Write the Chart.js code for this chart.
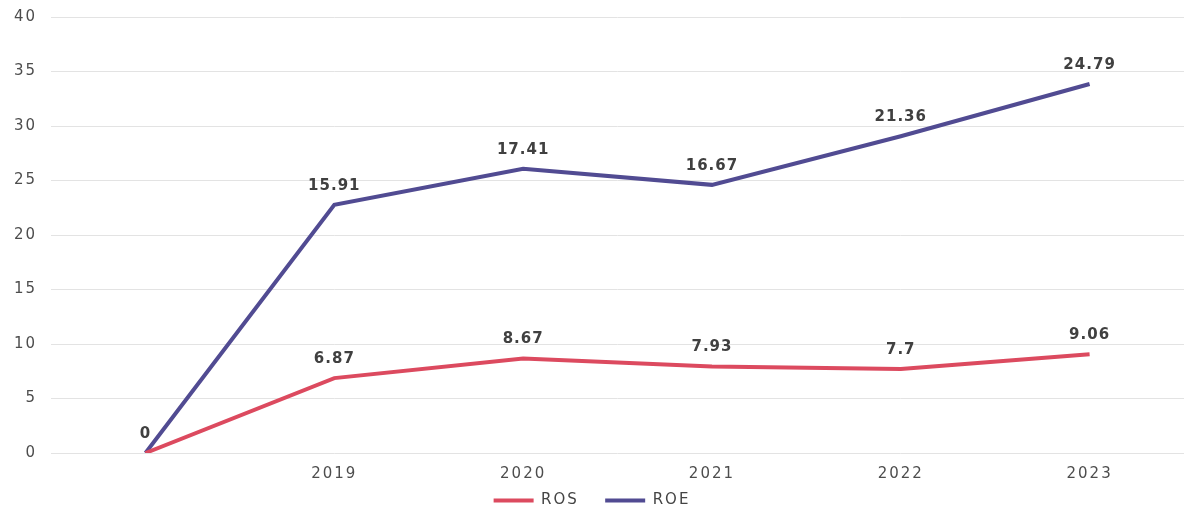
<!DOCTYPE html>
<html>
<head>
<meta charset="utf-8">
<script src="https://cdn.jsdelivr.net/npm/chart.js@4"></script>
<style>
html,body{margin:0;padding:0;background:#fff;}
#wrap{width:1184px;height:510px;}
</style>
</head>
<body>
<div id="wrap"><canvas id="c" width="1184" height="510"></canvas></div>
<script>
const categories = ["", "2019", "2020", "2021", "2022", "2023"];
const rosValues = [0, 6.87, 8.67, 7.93, 7.7, 9.06];
const roeValues = [0, 15.91, 17.41, 16.67, 21.36, 24.79];
const yTicks = [0, 5, 10, 15, 20, 25, 30, 35, 40];

const FONT = '"DejaVu Sans", "Liberation Sans", Arial, sans-serif';

const spacingPlugin = {
  id: 'spacing',
  beforeLayout(chart) { chart.ctx.letterSpacing = '2px'; },
  beforeDraw(chart) { chart.ctx.letterSpacing = '2px'; }
};

const labelPlugin = {
  id: 'valueLabels',
  afterDatasetsDraw(chart) {
    const ctx = chart.ctx;
    ctx.save();
    ctx.font = 'bold 15px ' + FONT;
    ctx.letterSpacing = '1px';
    ctx.fillStyle = '#404040';
    ctx.textAlign = 'center';
    ctx.textBaseline = 'middle';
    chart.data.datasets.forEach((ds, di) => {
      const meta = chart.getDatasetMeta(di);
      meta.data.forEach((pt, i) => {
        if (di === 1 && i === 0) return; // same "0" label as ROS
        ctx.fillText(String(ds.data[i]), pt.x, pt.y - 19);
      });
    });
    ctx.restore();
  }
};

new Chart(document.getElementById('c'), {
  type: 'line',
  data: {
    labels: categories,
    datasets: [
      { label: 'ROS', data: rosValues, borderColor: '#dc4a5f', backgroundColor: '#dc4a5f',
        borderWidth: 4, pointRadius: 0, tension: 0, fill: false },
      { label: 'ROE', data: roeValues, borderColor: '#514b92', backgroundColor: '#514b92',
        borderWidth: 4, pointRadius: 0, tension: 0, fill: false }
    ]
  },
  options: {
    responsive: false,
    animation: false,
    devicePixelRatio: 1,
    layout: { padding: { top: 0, right: 0, left: 0, bottom: -8 } },
    plugins: {
      legend: {
        position: 'bottom',
        labels: {
          usePointStyle: true, pointStyle: 'line', pointStyleWidth: 40,
          boxHeight: 4, padding: 6,
          color: '#444', font: { size: 15, family: FONT },
          generateLabels(chart) {
            const items = Chart.defaults.plugins.legend.labels.generateLabels(chart);
            items.forEach((it, i) => { if (i < items.length - 1) it.text = it.text + '   '; });
            return items;
          }
        }
      },
      tooltip: { enabled: false }
    },
    scales: {
      x: {
        offset: true,
        grid: { display: false },
        border: { display: false },
        ticks: { color: '#4d4d4d', font: { size: 15, family: FONT }, padding: 4 }
      },
      y: {
        stacked: true,
        min: 0, max: 40,
        afterBuildTicks(axis) { axis.ticks = yTicks.map(v => ({ value: v })); },
        grid: { color: '#e3e3e3', lineWidth: 1, drawTicks: false },
        border: { display: false },
        ticks: { color: '#4d4d4d', font: { size: 15, family: FONT, lineHeight: 0.4 }, padding: 14 }
      }
    }
  },
  plugins: [spacingPlugin, labelPlugin]
});
</script>
</body>
</html>
